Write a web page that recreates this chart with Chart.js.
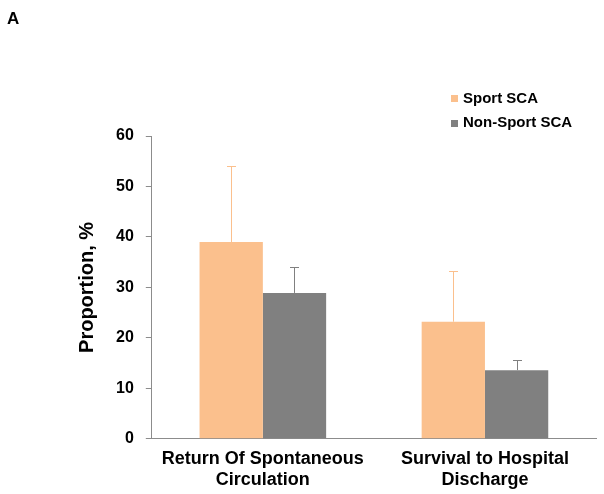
<!DOCTYPE html>
<html>
<head>
<meta charset="utf-8">
<script src="https://cdn.jsdelivr.net/npm/chart.js@4.4.0/dist/chart.umd.min.js"></script>
<style>
html,body{margin:0;padding:0;background:#fff;}
#wrap{position:relative;width:604px;height:494px;}
</style>
</head>
<body>
<div id="wrap"><canvas id="c" width="604" height="494"></canvas></div>
<script>
const categories = [["Return Of Spontaneous", "Circulation"], ["Survival to Hospital", "Discharge"]];
const seriesNames = ["Sport SCA", "Non-Sport SCA"];
const sportValues = [39, 23.2];
const sportErrorTop = [54, 33.2];
const nonSportValues = [28.9, 13.6];
const nonSportErrorTop = [34, 15.6];
const yTicks = [0, 10, 20, 30, 40, 50, 60];
const panelLabel = "A";
const yTitle = "Proportion, %";

const orange = "#FBC08D";
const gray = "#808080";
const FONT = "'Liberation Sans', Arial, sans-serif";

const errorBars = {
  id: 'errorBars',
  afterDatasetsDraw(chart) {
    const ctx = chart.ctx;
    const y = chart.scales.y;
    chart.data.datasets.forEach((ds, i) => {
      const meta = chart.getDatasetMeta(i);
      meta.data.forEach((bar, j) => {
        const top = y.getPixelForValue(ds.errTop[j]);
        const base = bar.y;
        ctx.save();
        ctx.strokeStyle = ds.errColor;
        ctx.lineWidth = 1;
        ctx.beginPath();
        ctx.moveTo(Math.round(bar.x) + 0.5, base);
        ctx.lineTo(Math.round(bar.x) + 0.5, Math.round(top) + 0.5);
        ctx.moveTo(Math.round(bar.x) - 4, Math.round(top) + 0.5);
        ctx.lineTo(Math.round(bar.x) + 5, Math.round(top) + 0.5);
        ctx.stroke();
        ctx.restore();
      });
    });
  }
};

const extras = {
  id: 'extras',
  afterDraw(chart) {
    const ctx = chart.ctx;
    ctx.save();
    ctx.fillStyle = '#000';
    ctx.font = "bold 17px " + FONT;
    ctx.textBaseline = 'middle';
    ctx.textAlign = 'left';
    ctx.fillText(panelLabel, 7, 19);
    // legend
    const colors = [orange, gray];
    const ys = [98.5, 123];
    ctx.font = "bold 15px " + FONT;
    seriesNames.forEach((n, i) => {
      ctx.fillStyle = colors[i];
      ctx.fillRect(451, Math.round(ys[i] - 3.5), 7, 7);
      ctx.fillStyle = '#000';
      ctx.fillText(n, 463, ys[i]);
    });
    ctx.restore();
  }
};

new Chart(document.getElementById('c'), {
  type: 'bar',
  data: {
    labels: categories,
    datasets: [
      { label: seriesNames[0], data: sportValues, errTop: sportErrorTop, errColor: orange, backgroundColor: orange, categoryPercentage: 0.57, barPercentage: 1.0 },
      { label: seriesNames[1], data: nonSportValues, errTop: nonSportErrorTop, errColor: gray, backgroundColor: gray, categoryPercentage: 0.57, barPercentage: 1.0 }
    ]
  },
  options: {
    responsive: false,
    animation: false,
    layout: { padding: { left: 75, right: 8, top: 136, bottom: -6 } },
    plugins: { legend: { display: false }, tooltip: { enabled: false }, title: { display: false } },
    scales: {
      x: {
        grid: { display: false, drawTicks: false },
        border: { display: true, color: '#8c8c8c', width: 1 },
        ticks: { color: '#000', font: { family: FONT, size: 18, weight: 'bold' }, padding: 9, maxRotation: 0, autoSkip: false }
      },
      y: {
        min: 0, max: 60,
        afterBuildTicks(axis) { axis.ticks = yTicks.map(v => ({ value: v })); },
        grid: { drawOnChartArea: false, drawTicks: true, tickLength: 6, color: '#8c8c8c' },
        border: { display: true, color: '#8c8c8c', width: 1 },
        ticks: { color: '#000', font: { family: FONT, size: 16, weight: 'bold' }, padding: 12 },
        title: { display: true, text: yTitle, color: '#000', font: { family: FONT, size: 20, weight: 'bold' }, padding: { top: 0, bottom: 5 } }
      }
    }
  },
  plugins: [errorBars, extras]
});
</script>
</body>
</html>
